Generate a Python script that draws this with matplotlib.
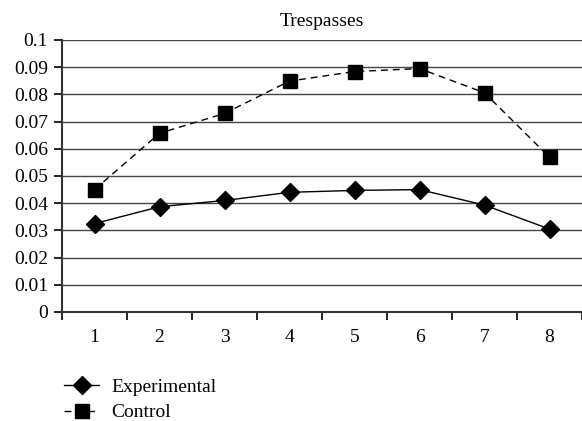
import matplotlib.pyplot as plt

# Data
categories = [1, 2, 3, 4, 5, 6, 7, 8]
experimental = [0.0325, 0.0387, 0.0410, 0.0440, 0.0447, 0.0450, 0.0393, 0.0305]
control = [0.0450, 0.0657, 0.0730, 0.0849, 0.0884, 0.0895, 0.0806, 0.0569]
yticks = [0, 0.01, 0.02, 0.03, 0.04, 0.05, 0.06, 0.07, 0.08, 0.09, 0.1]
ytick_labels = ['0', '0.01', '0.02', '0.03', '0.04', '0.05', '0.06', '0.07', '0.08', '0.09', '0.1']

plt.rcParams['font.family'] = ['Liberation Serif', 'DejaVu Serif']

fig = plt.figure(figsize=(5.82, 4.21), dpi=100)
ax = fig.add_axes([62 / 582, 1 - 312 / 421, 1 - 62 / 582, 272 / 421])

# Horizontal gridlines
for v in yticks[1:]:
    ax.axhline(v, color='#444444', lw=1.0, zorder=1)

ax.plot(categories, experimental, color='black', lw=1.0, marker='D', markersize=9,
        label='Experimental', zorder=3)
ax.plot(categories, control, color='black', lw=1.0, dashes=(5, 3.5), marker='s',
        markersize=10, label='Control', zorder=3)

ax.set_xlim(0.5, 8.5)
ax.set_ylim(0, 0.1)
ax.set_yticks(yticks)
ax.set_yticklabels(ytick_labels)
ax.set_xticks(categories)
ax.set_xticks([c + 0.5 for c in [0] + categories], minor=True)
ax.tick_params(axis='x', which='major', length=0, pad=12, labelsize=14)
ax.tick_params(axis='x', which='minor', direction='out', length=6, width=1.2)
ax.tick_params(axis='y', direction='out', length=6, width=1.2, pad=4, labelsize=14)

for s in ['top', 'right']:
    ax.spines[s].set_visible(False)
ax.spines['left'].set_linewidth(1.5)
ax.spines['left'].set_color('#333333')
ax.spines['bottom'].set_linewidth(1.5)
ax.spines['bottom'].set_color('#333333')

ax.set_title('Trespasses', fontsize=14, pad=10)

ax.legend(loc='upper left', bbox_to_anchor=(64 / 582, 1 - 378 / 421),
          bbox_transform=fig.transFigure, frameon=False, fontsize=14,
          borderpad=0, borderaxespad=0,
          handlelength=1.8, handletextpad=0.65, labelspacing=0.42)

fig.savefig('out.png', dpi=100)
